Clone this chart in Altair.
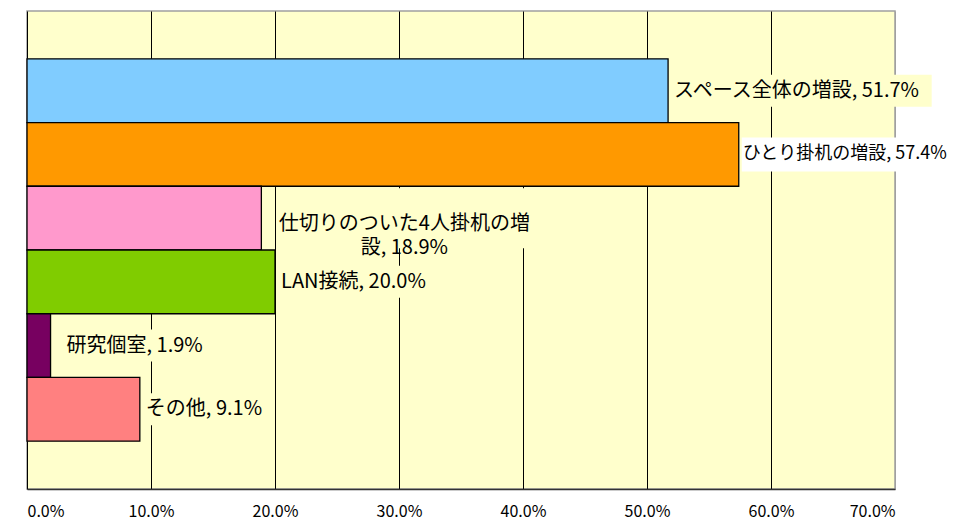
import altair as alt
import pandas as pd

categories = ["スペース全体の増設", "ひとり掛机の増設", "仕切りのついた4人掛机の増設",
              "LAN接続", "研究個室", "その他"]
values = [51.7, 57.4, 18.9, 20.0, 1.9, 9.1]
colors = ["#80CCFF", "#FF9900", "#FF99CC", "#80CC00", "#770060", "#FF8080"]
ticks = [0, 10, 20, 30, 40, 50, 60, 70]

labels = []
for c, v in zip(categories, values):
    if c == "仕切りのついた4人掛机の増設":
        labels.append(f"仕切りのついた4人掛机の増\n設, {v:.1f}%")
    else:
        labels.append(f"{c}, {v:.1f}%")

df = pd.DataFrame({"category": categories, "value": values, "label": labels})

FONT = "Noto Sans CJK JP"
FS = 20
base = alt.Chart(df)

y = alt.Y("category:N", sort=categories, axis=None,
          scale=alt.Scale(paddingInner=0, paddingOuter=0.75))
x = alt.X("value:Q", title=None,
          scale=alt.Scale(domain=[0, 70], nice=False, zero=True),
          axis=alt.Axis(values=ticks,
                        labelExpr="format(datum.value, '.1f') + '%'",
                        grid=True,
                        gridColor=alt.condition(alt.datum.value == 70,
                                                alt.value("#A0A0A0"),
                                                alt.value("black")),
                        gridWidth=1,
                        ticks=False, domainColor="#333333", domainWidth=1.5,
                        labelFont=FONT, labelFontSize=16, labelColor="black",
                        labelPadding=14))

bars = base.mark_bar(stroke="black", strokeWidth=1.3).encode(
    x=x, y=y,
    color=alt.Color("category:N", scale=alt.Scale(domain=categories, range=colors),
                    legend=None),
)


def w_expr(fs):
    return (f"{fs}*length(replace(datum.label, regexp('[ -~]','g'), '')) + "
            f"{fs*0.54}*length(replace(datum.label, regexp('[^ -~]','g'), ''))")


normal = ["スペース全体の増設", "LAN接続", "その他"]

boxes_a = base.transform_filter(
    alt.FieldOneOfPredicate(field="category", oneOf=normal)
).mark_bar(height=32, xOffset=3, x2Offset=alt.ExprRef("8 + " + w_expr(FS)),
           color="#FFFFCC").encode(x="value:Q", x2="value:Q", y=y)

text_a = base.transform_filter(
    alt.FieldOneOfPredicate(field="category", oneOf=normal)
).mark_text(align="left", baseline="middle", dx=6, fontSize=FS, font=FONT,
            color="black").encode(x="value:Q", y=y, text="label:N")

# ひとり掛机の増設: label runs to the right edge on a white box
boxes_o = base.transform_filter(alt.datum.category == "ひとり掛机の増設").mark_bar(
    height=34, xOffset=3, x2Offset=alt.ExprRef("10 + " + w_expr(18)), color="white"
).encode(x="value:Q", x2="value:Q", y=y)

text_o = base.transform_filter(alt.datum.category == "ひとり掛机の増設").mark_text(
    align="left", baseline="middle", dx=4, fontSize=18, font=FONT, color="black"
).encode(x="value:Q", y=y, text="label:N")

boxes_b = base.transform_filter(alt.datum.category == "研究個室").mark_bar(
    height=32, xOffset=13, x2Offset=alt.ExprRef("18 + " + w_expr(FS)), color="#FFFFCC"
).encode(x="value:Q", x2="value:Q", y=y)

text_b = base.transform_filter(alt.datum.category == "研究個室").mark_text(
    align="left", baseline="middle", dx=16, fontSize=FS, font=FONT, color="black"
).encode(x="value:Q", y=y, text="label:N")

boxes_c = base.transform_filter(
    alt.datum.category == "仕切りのついた4人掛机の増設").mark_bar(
    height=60, xOffset=15, x2Offset=272, color="#FFFFCC"
).encode(x="value:Q", x2="value:Q", y=y)

text_c = base.transform_filter(
    alt.datum.category == "仕切りのついた4人掛机の増設").mark_text(
    align="center", baseline="middle", dx=143, dy=6, fontSize=FS, font=FONT,
    color="black", lineBreak="\n", lineHeight=24
).encode(x="value:Q", y=y, text="label:N")

chart = alt.layer(bars, boxes_a, boxes_o, boxes_b, boxes_c,
                  text_a, text_o, text_b, text_c).properties(
    width=868, height=478,
    autosize=alt.AutoSizeParams(type="none"),
    padding={"left": 19, "top": 3, "right": 53, "bottom": 32},
    background="white",
).configure_view(fill="#FFFFCC", stroke="#A0A0A0", strokeWidth=1.5)

chart.save("out.html", embed_options={"renderer": "svg", "actions": False})
